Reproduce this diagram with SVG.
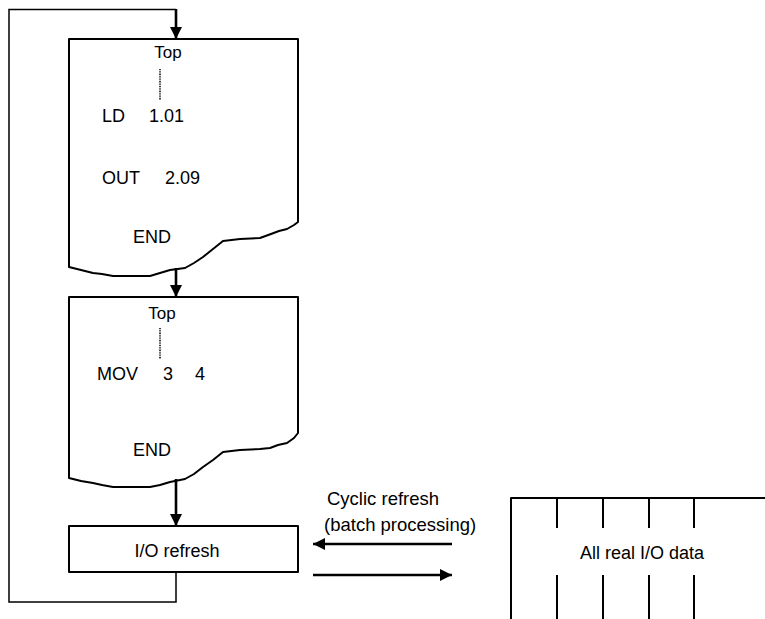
<svg xmlns="http://www.w3.org/2000/svg" width="765" height="619" viewBox="0 0 765 619">
<style>
.box{fill:#fff;stroke:#000;stroke-width:2;stroke-linejoin:round}
.t{font-family:"Liberation Sans",Arial,sans-serif;font-size:18px;fill:#000}
.tc{text-anchor:middle}
.arr{stroke:#000;stroke-width:2.6;fill:none}
.thin{stroke:#000;stroke-width:1.5;fill:none}
.dot{stroke:#000;stroke-width:1.5;stroke-dasharray:1 0.7;fill:none}
.tick{stroke:#000;stroke-width:2;fill:none}
</style>
<defs>
<marker id="ah" markerUnits="userSpaceOnUse" markerWidth="14" markerHeight="12" refX="12" refY="6" orient="auto">
<path d="M0,0 L12,6 L0,12 Z" fill="#000"/>
</marker>
</defs>
<g id="program1">
<path class="box" d="M69,39 H298 V222 L294,225 L287,229 L279,231 L271,234 L260,238 L240,239 L223,241 L213,249 L203,257 L194,263 L185,268 L170,270 L160,273 L150,276 L132,276 L113,276 L102,274 L93,273 L81,270 L69,267 Z"/>
<text class="t tc" x="168" y="58" style="font-size:17px">Top</text>
<line class="dot" x1="160" y1="69" x2="160" y2="100"/>
<text class="t" x="102" y="122">LD</text>
<text class="t" x="149" y="122">1.01</text>
<text class="t" x="102" y="184">OUT</text>
<text class="t" x="165" y="184">2.09</text>
<text class="t" x="133" y="243">END</text>
</g>
<g id="program2">
<path class="box" d="M69,297 H298 V433 L294,438 L287,443 L278,445 L270,448 L260,449 L240,450 L223,452 L213,460 L203,467 L194,474 L185,479 L170,482 L160,485 L150,487 L132,487 L113,487 L102,485 L93,483 L81,481 L69,478 Z"/>
<text class="t tc" x="162" y="319" style="font-size:17px">Top</text>
<line class="dot" x1="160" y1="328" x2="160" y2="359"/>
<text class="t" x="97" y="380">MOV</text>
<text class="t" x="163" y="380">3</text>
<text class="t" x="195" y="380">4</text>
<text class="t" x="133" y="456">END</text>
</g>
<g id="io_refresh">
<rect class="box" x="69" y="526" width="229" height="46"/>
<text class="t tc" x="177" y="557">I/O refresh</text>
</g>
<g id="io_data">
<path class="box" d="M511,619 V498 H765" fill="none"/>
<path class="tick" d="M557,498 V528 M603,498 V528 M649,498 V528 M694,498 V528 M557,575 V619 M603,575 V619 M649,575 V619 M694,575 V619"/>
<text class="t tc" x="642" y="559">All real I/O data</text>
</g>
<g id="connectors">
<path class="thin" d="M176,572 V602 H9 V9.5 H176"/>
<line class="arr" x1="176" y1="9" x2="176" y2="39" marker-end="url(#ah)"/>
<line class="arr" x1="176" y1="268" x2="176" y2="297" marker-end="url(#ah)"/>
<line class="arr" x1="176" y1="479" x2="176" y2="526" marker-end="url(#ah)"/>
<line class="arr" x1="452" y1="544" x2="313" y2="544" marker-end="url(#ah)"/>
<line class="arr" x1="313" y1="575" x2="452" y2="575" marker-end="url(#ah)"/>
<text class="t" x="327" y="505" style="font-size:18.5px">Cyclic refresh</text>
<text class="t" x="324" y="531" style="font-size:18.5px">(batch processing)</text>
</g>
</svg>
